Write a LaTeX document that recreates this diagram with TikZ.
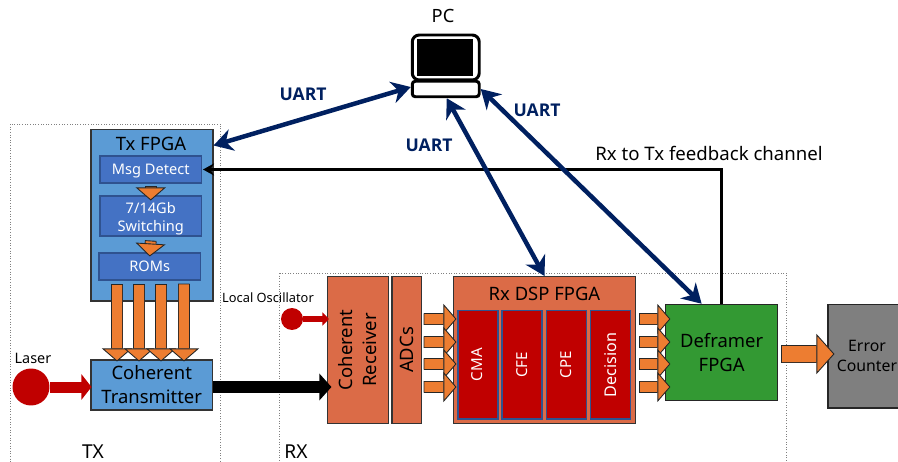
\documentclass[tikz,border=0pt]{standalone}
\usepackage{fontspec}
\setmainfont{Noto Sans}
\newfontfamily\uartfont{Open Sans}
\usetikzlibrary{arrows.meta}
\definecolor{txblue}{HTML}{5B9BD5}
\definecolor{subblue}{HTML}{4472C4}
\definecolor{subedge}{HTML}{2F528F}
\definecolor{rxorange}{HTML}{DB6B47}
\definecolor{fatorange}{HTML}{ED7D31}
\definecolor{lasered}{HTML}{C00000}
\definecolor{framegreen}{HTML}{339933}
\definecolor{countgray}{HTML}{7F7F7F}
\definecolor{uartblue}{HTML}{002060}
\begin{document}
\begin{tikzpicture}[x=0.02cm, y=0.02cm]
	\tikzstyle{every node}+=[inner sep=0pt, align=center]
	\tikzstyle{frame}=[gray, densely dotted, line width=0.5pt]
	\tikzstyle{txbox}=[draw=black!80, fill=txblue, line width=0.6pt]
	\tikzstyle{subbox}=[draw=subedge, fill=subblue, line width=0.6pt, minimum width=2.03cm]
	\tikzstyle{subtxt}=[text=white, font=\fontsize{8.3}{10.2}\selectfont]
	\tikzstyle{rxbox}=[draw=black!80, fill=rxorange, line width=0.6pt]
	\tikzstyle{dspbox}=[draw=subedge, fill=lasered, line width=0.6pt, minimum width=0.8cm, minimum height=2.17cm]
	\tikzstyle{dsptxt}=[rotate=90, text=white, font=\fontsize{8.6}{10}\selectfont]
	\tikzstyle{big}=[font=\fontsize{10.5}{13.6}\selectfont]
	\tikzstyle{fatarrow}=[draw=black!85, line width=0.5pt, double=fatorange, double distance=0.2cm, {Bar[width=0.23cm,line width=0.5pt,sep=0pt]}-{Triangle[length=0.26cm,width=0.6cm,fill=fatorange,line width=0.5pt]}]
	\tikzstyle{uart}=[draw=uartblue, line width=0.09cm, {Stealth[length=0.38cm,width=0.44cm]}-{Stealth[length=0.38cm,width=0.44cm]}]
	\tikzstyle{uartlabel}=[text=uartblue, font=\fontsize{10}{12}\selectfont\uartfont\bfseries]
	\useasboundingbox (0,0) rectangle (898,-462);
	\clip (0,0) rectangle (898,-462);
	\draw [frame] (10,-124) rectangle (220.5,-480);
	\draw [frame] (279.5,-273) rectangle (786,-480);
	\draw (93,-452) node (txtag) [font=\fontsize{10.9}{13}\selectfont] {TX};
	\draw (296,-452) node (rxtag) [font=\fontsize{10.9}{13}\selectfont] {RX};
	\draw (152,-215.25) node (txfpga) [txbox, minimum width=2.44cm, minimum height=3.43cm] {};
	\draw (151,-144) node (txtitle) [big] {Tx FPGA};
	\draw (150.75,-169.5) node (msgdet) [subbox, minimum height=0.54cm] {};
	\draw (150.75,-171.5) node (msgtxt) [subtxt] {Msg Detect};
	\draw (150.75,-216) node (switching) [subbox, minimum height=0.8cm] {};
	\draw (150.75,-218.5) node (switchtxt) [subtxt] {7/14Gb\\Switching};
	\draw (149.75,-266.5) node (roms) [subbox, minimum height=0.54cm] {};
	\draw (149.75,-266.5) node (romtxt) [subtxt] {ROMs};
	\draw (151.75,-385) node (cotx) [txbox, big, minimum width=2.43cm, minimum height=1cm] {Coherent\\Transmitter};
	\draw (31,-387) node (laser) [circle, fill=lasered, minimum size=0.74cm] {};
	\draw (33,-358) node (lasertag) [font=\fontsize{8.2}{10}\selectfont] {Laser};
	\draw (268,-298) node (lotag) [font=\fontsize{7.3}{9}\selectfont] {Local Oscillator};
	\draw (292,-319) node (lo) [circle, fill=lasered, minimum size=0.44cm] {};
	\draw (358,-350) node (corx) [rxbox, big, rotate=90, minimum width=2.94cm, minimum height=1.22cm] {Coherent\\Receiver};
	\draw (406.75,-350) node (adcs) [rxbox, big, rotate=90, minimum width=2.94cm, minimum height=0.59cm] {ADCs};
	\draw (544.5,-350) node (rxdsp) [rxbox, minimum width=3.64cm, minimum height=2.94cm] {};
	\draw (544.5,-294) node (rxtitle) [big] {Rx DSP FPGA};
	\draw (478,-364.75) node (cma) [dspbox] {};
	\draw (477,-364.75) node (cmatxt) [dsptxt] {CMA};
	\draw (522,-364.75) node (cfe) [dspbox] {};
	\draw (522,-364.75) node (cfetxt) [dsptxt] {CFE};
	\draw (566.25,-364.75) node (cpe) [dspbox] {};
	\draw (566.25,-364.75) node (cpetxt) [dsptxt] {CPE};
	\draw (610.75,-364.75) node (decision) [dspbox] {};
	\draw (610.75,-364.75) node (dectxt) [dsptxt, font=\fontsize{9.2}{11}\selectfont] {Decision};
	\draw (721.65,-352.5) node (deframer) [draw=black!85, fill=framegreen, line width=0.6pt, big, minimum width=2.25cm, minimum height=1.93cm] {Deframer\\FPGA};
	\draw (867,-356.25) node (counter) [draw=black!85, fill=countgray, line width=0.6pt, font=\fontsize{9}{11.5}\selectfont, minimum width=1.56cm, minimum height=2.07cm] {Error\\Counter};
	\draw (443,-16) node (pctag) [font=\fontsize{10.4}{13}\selectfont] {PC};
	\draw (445.75,-57.5) node (monitor) [draw=black, line width=1.7pt, rounded corners=0.14cm, minimum width=1.34cm, minimum height=0.9cm] {};
	\draw (445,-57.5) node (screen) [fill=black, minimum width=1.12cm, minimum height=0.74cm] {};
	\draw (445.75,-89) node (pcbase) [draw=black, fill=white, line width=1.7pt, rounded corners=0.06cm, minimum width=1.34cm, minimum height=0.31cm] {};
	\draw [fatarrow] ([yshift=-0.04cm]msgdet.south) -- ([yshift=-0.1cm]switching.north);
	\draw [fatarrow] ([yshift=-0.08cm]switching.south) -- ([yshift=-0.08cm]roms.north);
	\draw [fatarrow] ([xshift=-0.655cm,yshift=-0.06cm]roms.south) -- ([xshift=-0.695cm,yshift=-0.04cm]cotx.north);
	\draw [fatarrow] ([xshift=-0.215cm,yshift=-0.06cm]roms.south) -- ([xshift=-0.255cm,yshift=-0.04cm]cotx.north);
	\draw [fatarrow] ([xshift=0.225cm,yshift=-0.06cm]roms.south) -- ([xshift=0.185cm,yshift=-0.04cm]cotx.north);
	\draw [fatarrow] ([xshift=0.685cm,yshift=-0.06cm]roms.south) -- ([xshift=0.645cm,yshift=-0.04cm]cotx.north);
	\draw [draw=lasered, line width=0.22cm, -{Triangle[length=0.2cm,width=0.5cm]}] (laser) -- ([xshift=0.02cm]cotx.west |- laser);
	\draw [draw=lasered, line width=0.12cm, -{Triangle[length=0.13cm,width=0.26cm]}] (lo) -- ([xshift=0.04cm]corx.north |- lo);
	\draw [draw=black, line width=0.23cm, -{Triangle[length=0.24cm,width=0.52cm]}] (cotx.east |- laser) -- ([xshift=0.09cm]corx.north |- laser);
	\draw [fatarrow] ([xshift=0.03cm,yshift=0.62cm]adcs.south) -- ([xshift=-0.02cm,yshift=0.915cm]cma.west);
	\draw [fatarrow] ([xshift=0.03cm,yshift=0.16cm]adcs.south) -- ([xshift=-0.02cm,yshift=0.455cm]cma.west);
	\draw [fatarrow] ([xshift=0.03cm,yshift=-0.28cm]adcs.south) -- ([xshift=-0.02cm,yshift=0.015cm]cma.west);
	\draw [fatarrow] ([xshift=0.03cm,yshift=-0.74cm]adcs.south) -- ([xshift=-0.02cm,yshift=-0.445cm]cma.west);
	\draw [fatarrow] ([xshift=0.05cm,yshift=0.62cm]rxdsp.east) -- ([xshift=0.11cm,yshift=0.67cm]deframer.west);
	\draw [fatarrow] ([xshift=0.05cm,yshift=0.16cm]rxdsp.east) -- ([xshift=0.11cm,yshift=0.21cm]deframer.west);
	\draw [fatarrow] ([xshift=0.05cm,yshift=-0.28cm]rxdsp.east) -- ([xshift=0.11cm,yshift=-0.23cm]deframer.west);
	\draw [fatarrow] ([xshift=0.05cm,yshift=-0.74cm]rxdsp.east) -- ([xshift=0.11cm,yshift=-0.69cm]deframer.west);
	\draw [draw=black!85, line width=0.5pt, double=fatorange, double distance=0.32cm, {Bar[width=0.35cm,line width=0.5pt,sep=0pt]}-{Triangle[length=0.36cm,width=0.8cm,fill=fatorange,line width=0.5pt]}] ([xshift=0.06cm,yshift=-0.03cm]deframer.east) -- ([xshift=0.14cm,yshift=0.045cm]counter.west);
	\draw [draw=black, line width=0.06cm, -{Stealth[length=0.22cm,width=0.24cm]}] (deframer.north) |- ([xshift=0.02cm]msgdet.east);
	\draw [uart] ([yshift=-0.33cm]txfpga.north east) -- ([yshift=0.04cm]pcbase.west);
	\draw [uart] ([xshift=0.02cm]pcbase.south) -- (rxdsp.north);
	\draw [uart] (pcbase.east) -- ([xshift=-0.4cm]deframer.north);
	\draw (303,-94) node (uarta) [uartlabel] {UART};
	\draw (429,-145) node (uartb) [uartlabel] {UART};
	\draw (537,-110) node (uartc) [uartlabel] {UART};
	\draw (709,-153) node (fbtag) [font=\fontsize{10.6}{12}\selectfont] {Rx to Tx feedback channel};
\end{tikzpicture}
\end{document}
